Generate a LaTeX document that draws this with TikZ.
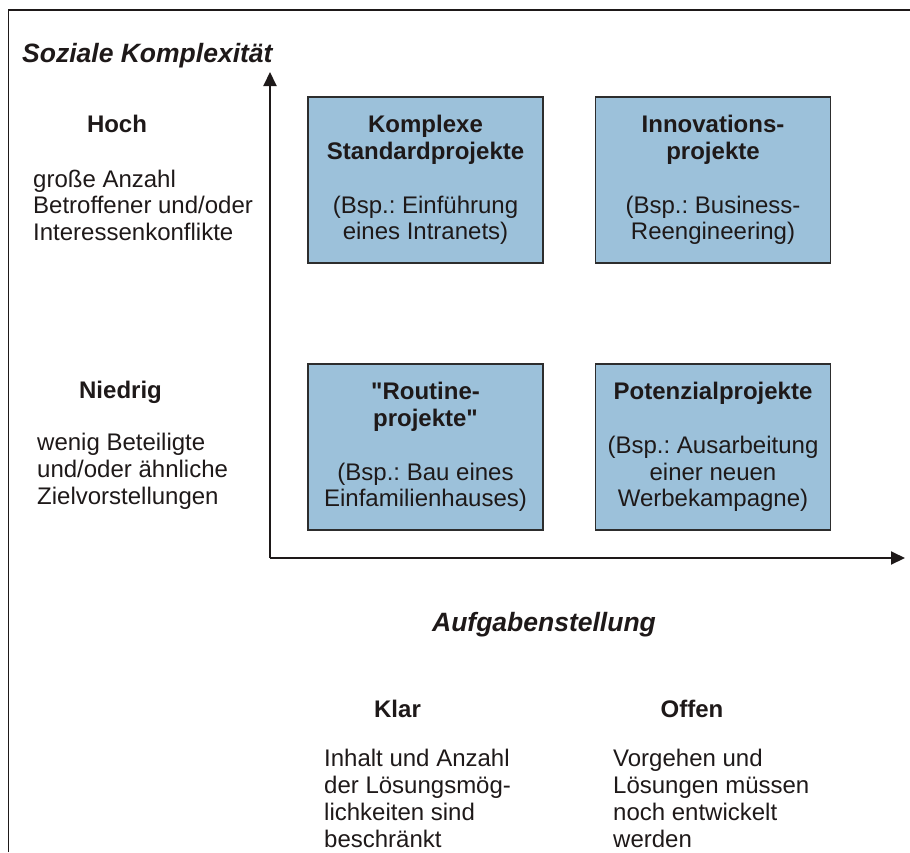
\documentclass[tikz,border=0pt]{standalone}
\usepackage{fontspec}
\setmainfont{Liberation Sans}[Ligatures=TeXOff]
\usetikzlibrary{arrows.meta}
\frenchspacing
\definecolor{boxblue}{RGB}{156,193,218}
\definecolor{boxline}{RGB}{45,45,45}
\definecolor{ink}{RGB}{30,25,25}
\tikzset{
  quad/.style={draw=boxline, line width=1.4pt, fill=boxblue, minimum width=235pt, minimum height=166pt,
    inner sep=0pt, align=center, text=ink, font=\fontsize{24}{26.8}\selectfont\frenchspacing},
  axisline/.style={draw=ink, line width=2pt, -{Triangle[length=14pt,width=13pt]}},
  bodytext/.style={text=ink, inner sep=0pt, align=left, font=\fontsize{24}{26.8}\selectfont},
  headtext/.style={text=ink, inner sep=0pt, font=\fontsize{24}{26.8}\selectfont\bfseries},
  titletext/.style={text=ink, inner sep=0pt, font=\fontsize{26.5}{30}\selectfont\bfseries\itshape}
}
\begin{document}
\begin{tikzpicture}[x=1pt,y=-1pt]
\useasboundingbox (0,0) rectangle (910,852);
% frame
\draw[draw=ink, line width=1.6pt] (8.5,852) -- (8.5,10) -- (910,10);
% axes
\coordinate (origin) at (270,558);
\coordinate (ytip) at (270,72);
\coordinate (xtip) at (905,558);
\draw[axisline] (origin) -- (ytip);
\draw[axisline] (origin) -- (xtip);
% boxes
\node[quad] (ks) at (425.5,180) {\textbf{Komplexe}\\\textbf{Standardprojekte}\\[26.8pt](Bsp.: Einführung\\eines Intranets)};
\node[quad] (ip) at (713,180) {\textbf{Innovations-}\\\textbf{projekte}\\[26.8pt](Bsp.: Business-\\Reengineering)};
\node[quad] (rp) at (425.5,447) {\textbf{"Routine-}\\\textbf{projekte"}\\[26.8pt](Bsp.: Bau eines\\Einfamilienhauses)};
\node[quad] (pp) at (713,447) {\textbf{Potenzialprojekte}\\[26.8pt](Bsp.: Ausarbeitung\\einer neuen\\Werbekampagne)};
% axis titles
\node[titletext, anchor=base west] (ytitle) at (22,62) {Soziale Komplexität};
\node[titletext, anchor=base] (xtitle) at (544,631) {Aufgabenstellung};
% y labels
\node[headtext, anchor=base] (hoch) at (117,132) {Hoch};
\node[bodytext, anchor=base west] (hochtxt) at (33,240.6) {große Anzahl\\Betroffener und/oder\\Interessenkonflikte};
\node[headtext, anchor=base] (niedrig) at (120.5,398) {Niedrig};
\node[bodytext, anchor=base west] (niedrigtxt) at (37,504) {wenig Beteiligte\\und/oder ähnliche\\Zielvorstellungen};
% x labels
\node[headtext, anchor=base] (klar) at (397.5,717) {Klar};
\node[headtext, anchor=base] (offen) at (692,717) {Offen};
\node[bodytext, anchor=base west] (klartxt) at (324,847) {Inhalt und Anzahl\\der Lösungsmög-\\lichkeiten sind\\beschränkt};
\node[bodytext, anchor=base west] (offentxt) at (613,847) {Vorgehen und\\Lösungen müssen\\noch entwickelt\\werden};
\end{tikzpicture}
\end{document}
